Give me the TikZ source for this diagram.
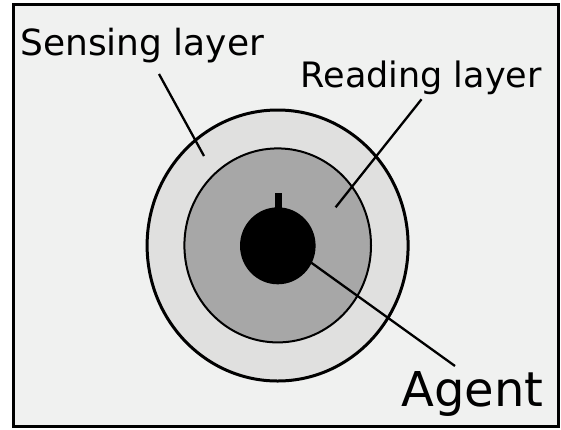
\documentclass[tikz,border=0pt]{standalone}
\usepackage{fontspec}
\setmainfont{DejaVu Sans}
\definecolor{bgc}{HTML}{F0F1F0}
\definecolor{ringc}{HTML}{E0E0DF}
\definecolor{midc}{HTML}{A7A7A7}
\tikzset{
  lbl/.style={anchor=base west, inner sep=0pt, text=black},
  leader/.style={draw=black, line width=2.3pt},
}
\begin{document}
\begin{tikzpicture}[x=1pt,y=-1pt]
\useasboundingbox (0,0) rectangle (561,429);
\fill[white] (0,0) rectangle (561,429);
\draw[fill=bgc, line width=2.8pt] (13.8,4.5) rectangle (558.5,426.5);
% layers
\draw[fill=ringc, line width=3pt] (277.6,245.5) ellipse [x radius=130.5pt, y radius=135.5pt];
\draw[fill=midc, line width=2pt] (277.7,245.4) ellipse [x radius=93.3pt, y radius=97pt];
\fill[black] (275,192.5) rectangle (281.5,212);
\fill[black] (277.8,245.8) ellipse [x radius=37.8pt, y radius=38.5pt];
% labels
\node[lbl, font=\fontsize{36}{40}\selectfont] (sens) at (20,55) {Sensing layer};
\node[lbl, font=\fontsize{35}{40}\selectfont] (read) at (300.5,87.3) {Reading layer};
\node[lbl, font=\fontsize{48}{52}\selectfont] (agent) at (401,406) {Agent};
% leader endpoints
\coordinate (s1) at (159,74);
\coordinate (s2) at (204,156);
\coordinate (r1) at (421.5,99.3);
\coordinate (r2) at (335.6,207.3);
\coordinate (a1) at (311.3,262.7);
\coordinate (a2) at (455,366);
\draw[leader] (s1) -- (s2);
\draw[leader] (r1) -- (r2);
\draw[leader] (a1) -- (a2);
\end{tikzpicture}
\end{document}
